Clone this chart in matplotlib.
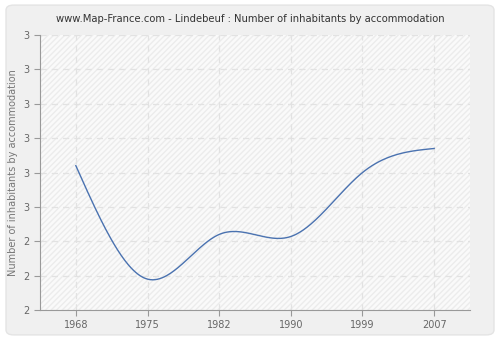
import matplotlib

matplotlib.use("Agg")
import matplotlib.pyplot as plt
import numpy as np
from matplotlib.patches import FancyBboxPatch, Rectangle

# Valores (habitantes por vivienda)
YEARS = ["1968", "1975", "1982", "1990", "1999", "2007"]
VALUES = [2.62, 2.29, 2.42, 2.414, 2.60, 2.67]
Y_TICKS = [2.2, 2.3, 2.4, 2.5, 2.6, 2.7, 2.8, 2.9, 3.0]
Y_LABELS = ["2", "2", "2", "3", "3", "3", "3", "3", "3"]


def natural_spline(x, y, n=300):
    """Spline cubico natural, para suavizar la linea como en el original."""
    x = np.asarray(x, float)
    y = np.asarray(y, float)
    k = len(x)
    h = np.diff(x)
    A = np.zeros((k, k))
    b = np.zeros(k)
    A[0, 0] = A[-1, -1] = 1
    for i in range(1, k - 1):
        A[i, i - 1] = h[i - 1]
        A[i, i] = 2 * (h[i - 1] + h[i])
        A[i, i + 1] = h[i]
        b[i] = 3 * ((y[i + 1] - y[i]) / h[i] - (y[i] - y[i - 1]) / h[i - 1])
    c = np.linalg.solve(A, b)
    xs = np.linspace(x[0], x[-1], n)
    idx = np.clip(np.searchsorted(x, xs) - 1, 0, k - 2)
    dx = xs - x[idx]
    bb = (y[idx + 1] - y[idx]) / h[idx] - h[idx] * (2 * c[idx] + c[idx + 1]) / 3
    dd = (c[idx + 1] - c[idx]) / (3 * h[idx])
    ys = y[idx] + bb * dx + c[idx] * dx**2 + dd * dx**3
    return xs, ys


fig = plt.figure(figsize=(5, 3.4), dpi=100)
fig.patch.set_facecolor("white")
fig.patches.append(
    FancyBboxPatch((0.012, 0.015), 0.976, 0.97, boxstyle="round,pad=0,rounding_size=0.015",
                   transform=fig.transFigure, facecolor="#f0f0f0", edgecolor="#e4e4e4",
                   linewidth=1, zorder=-1)
)

ax = fig.add_axes([0.08, 0.088, 0.86, 0.809])
ax.set_facecolor("#fafafa")
ax.add_patch(Rectangle((0, 0), 1, 1, transform=ax.transAxes, facecolor="none",
                       edgecolor="#ececec", hatch="//////", linewidth=0, zorder=0))

xi = np.arange(len(YEARS))
xs, ys = natural_spline(xi, VALUES)
ax.plot(xs, ys, color="#4a72b0", linewidth=1.0, zorder=3)

ax.set_xlim(-0.5, len(YEARS) - 0.5)
ax.set_ylim(2.2, 3.0)
ax.set_xticks(xi)
ax.set_xticklabels(YEARS)
ax.set_yticks(Y_TICKS)
ax.set_yticklabels(Y_LABELS)

ax.grid(True, color="#e2e2e2", linestyle=(0, (5, 4)), linewidth=0.9)
ax.set_axisbelow(True)
for side in ("top", "right"):
    ax.spines[side].set_visible(False)
for side in ("left", "bottom"):
    ax.spines[side].set_color("#999999")
ax.tick_params(colors="#999999", labelcolor="#666666", labelsize=7, length=4, width=0.8)

ax.set_ylabel("Number of inhabitants by accommodation", fontsize=7, color="#777777")
fig.text(0.5, 0.945, "www.Map-France.com - Lindebeuf : Number of inhabitants by accommodation",
         ha="center", va="center", fontsize=7.2, color="#333333")

fig.savefig("out.png", dpi=100)
